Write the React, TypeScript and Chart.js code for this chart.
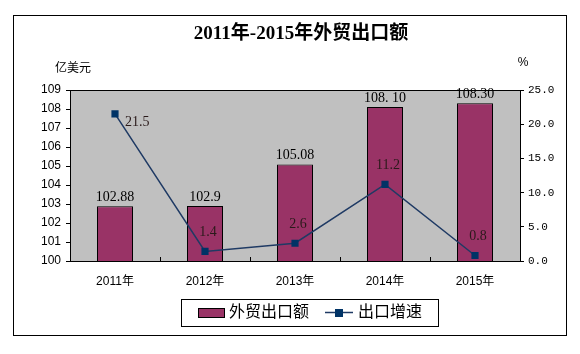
import React, { useEffect, useRef } from "react";
import { Chart, registerables } from "chart.js";

Chart.register(...registerables);

const categories = ["2011年", "2012年", "2013年", "2014年", "2015年"];
const exportValues = [102.88, 102.9, 105.08, 108.1, 108.3];
const exportLabels = ["102.88", "102.9", "105.08", "108. 10", "108.30"];
const growthValues = [21.5, 1.4, 2.6, 11.2, 0.8];
const growthLabels = ["21.5", "1.4", "2.6", "11.2", "0.8"];

const TITLE = "2011年-2015年外贸出口额";
const BAR_NAME = "外贸出口额";
const LINE_NAME = "出口增速";

const SERIF = '"Liberation Serif", "Noto Sans CJK SC", serif';
const SANS = '"Liberation Sans", "Noto Sans CJK SC", sans-serif';
const BAR_COLOR = "#993366";
const LINE_COLOR = "#1F3A64";
const MARK_COLOR = "#003366";

const decor = {
  id: "decor",
  beforeDraw(chart: any) {
    const { ctx, chartArea: a } = chart;
    ctx.save();
    ctx.fillStyle = "#fff";
    ctx.fillRect(0, 0, chart.width, chart.height);
    ctx.fillStyle = "#c0c0c0";
    ctx.fillRect(a.left, a.top, a.right - a.left, a.bottom - a.top);
    ctx.restore();
  },
  afterDatasetsDraw(chart: any) {
    const { ctx, chartArea: a } = chart;
    ctx.save();
    ctx.strokeStyle = "#000";
    ctx.lineWidth = 1;
    ctx.strokeRect(Math.round(a.left) + 0.5, Math.round(a.top) + 0.5, Math.round(a.right - a.left), Math.round(a.bottom - a.top));
    // x tick marks between categories, pointing up
    const xs = chart.scales.x;
    for (let i = 1; i < categories.length; i++) {
      const x = Math.round((xs.getPixelForValue(i - 1) + xs.getPixelForValue(i)) / 2) + 0.5;
      ctx.beginPath();
      ctx.moveTo(x, a.bottom);
      ctx.lineTo(x, a.bottom - 4);
      ctx.stroke();
    }
    // bar labels
    const barMeta = chart.getDatasetMeta(1);
    ctx.fillStyle = "#000";
    ctx.font = "14px " + SERIF;
    ctx.textAlign = "center";
    ctx.textBaseline = "alphabetic";
    barMeta.data.forEach((el: any, i: number) => {
      ctx.fillText(exportLabels[i], el.x, el.y - 5);
    });
    // line labels
    const lineMeta = chart.getDatasetMeta(0);
    ctx.fillStyle = "#2a1a1a";
    lineMeta.data.forEach((el: any, i: number) => {
      if (i === 0) {
        ctx.textAlign = "left";
        ctx.textBaseline = "middle";
        ctx.fillText(growthLabels[i], el.x + 10, el.y + 8);
      } else {
        ctx.textAlign = "center";
        ctx.textBaseline = "middle";
        ctx.fillText(growthLabels[i], el.x + 3, el.y - 19);
      }
    });
    ctx.restore();
  },
  afterDraw(chart: any) {
    const { ctx } = chart;
    ctx.save();
    // outer frame
    ctx.strokeStyle = "#000";
    ctx.lineWidth = 1;
    ctx.strokeRect(13.5, 15.5, 553, 320);
    // title
    ctx.fillStyle = "#000";
    ctx.font = "bold 19px " + SERIF;
    ctx.textAlign = "center";
    ctx.textBaseline = "middle";
    ctx.fillText(TITLE, 301, 34);
    // axis units
    ctx.font = "12px " + SANS;
    ctx.fillText("亿美元", 73, 69);
    ctx.fillText("%", 523, 63);
    // legend
    ctx.strokeRect(181.5, 299.5, 257, 27);
    ctx.fillStyle = BAR_COLOR;
    ctx.fillRect(198, 308, 27, 10);
    ctx.strokeRect(198.5, 308.5, 26, 9);
    ctx.fillStyle = "#000";
    ctx.font = "16px " + SANS;
    ctx.textAlign = "left";
    ctx.fillText(BAR_NAME, 229, 313);
    ctx.strokeStyle = LINE_COLOR;
    ctx.lineWidth = 1.5;
    ctx.beginPath();
    ctx.moveTo(325, 312.5);
    ctx.lineTo(353, 312.5);
    ctx.stroke();
    ctx.fillStyle = MARK_COLOR;
    ctx.fillRect(335, 309, 8, 8);
    ctx.fillStyle = "#000";
    ctx.fillText(LINE_NAME, 358, 313);
    ctx.restore();
  },
};

export default function App() {
  const ref = useRef<HTMLCanvasElement>(null);
  useEffect(() => {
    document.body.style.margin = "0";
    const chart = new Chart(ref.current as HTMLCanvasElement, {
      type: "bar",
      data: {
        labels: categories,
        datasets: [
          {
            type: "line",
            label: LINE_NAME,
            data: growthValues,
            yAxisID: "y1",
            borderColor: LINE_COLOR,
            borderWidth: 1.5,
            pointStyle: "rect",
            pointRadius: 4,
            pointBackgroundColor: MARK_COLOR,
            pointBorderColor: MARK_COLOR,
            tension: 0,
            order: 0,
          } as any,
          {
            type: "bar",
            label: BAR_NAME,
            data: exportValues,
            yAxisID: "y",
            backgroundColor: BAR_COLOR,
            borderColor: "#000",
            borderWidth: 1,
            barPercentage: 0.4,
            categoryPercentage: 1,
            order: 1,
          } as any,
        ],
      },
      options: {
        responsive: false,
        animation: false,
        layout: { padding: { top: 90, left: 0, right: 0, bottom: 0 } },
        plugins: { legend: { display: false }, title: { display: false }, tooltip: { enabled: false } },
        scales: {
          x: {
            grid: { display: false },
            border: { display: false },
            ticks: { color: "#000", font: { family: SANS, size: 12 }, padding: 5, maxRotation: 0 },
            afterFit(s: any) { s.height = 93; },
          },
          y: {
            position: "left",
            min: 100,
            max: 109,
            grid: { drawOnChartArea: false, drawTicks: true, tickLength: 4, color: "#000" },
            border: { display: true, color: "#000" },
            ticks: { stepSize: 1, color: "#000", font: { family: SANS, size: 12 }, padding: 5 },
            afterFit(s: any) { s.width = 70; },
          },
          y1: {
            position: "right",
            min: 0,
            max: 25,
            grid: { drawOnChartArea: false, drawTicks: true, tickLength: 4, color: "#000" },
            border: { display: true, color: "#000" },
            ticks: {
              stepSize: 5,
              color: "#000",
              font: { family: '"Liberation Mono", monospace', size: 11 },
              padding: 4,
              callback: (v: any) => Number(v).toFixed(1),
            },
            afterFit(s: any) { s.width = 60; },
          },
        },
      },
      plugins: [decor],
    });
    return () => chart.destroy();
  }, []);
  return (
    <div style={{ width: 580, height: 354 }}>
      <canvas ref={ref} width={580} height={354} style={{ width: 580, height: 354, display: "block" }} />
    </div>
  );
}
